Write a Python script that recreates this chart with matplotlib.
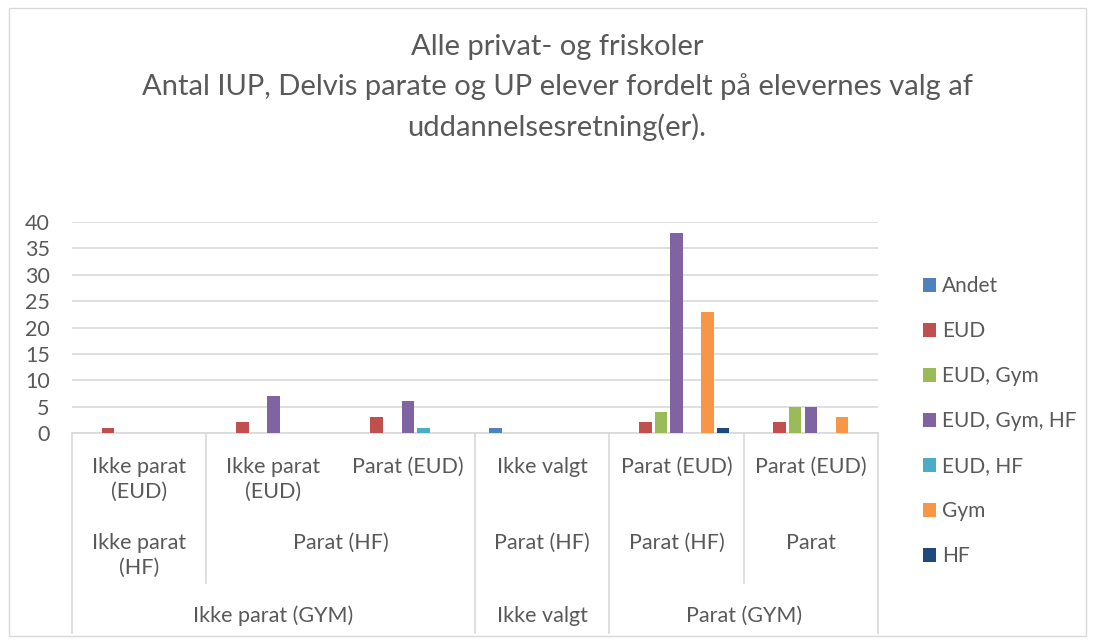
import matplotlib.pyplot as plt
import matplotlib.patches as patches
import numpy as np

plt.rcParams['font.family'] = ['Lato', 'DejaVu Sans']

series = ["Andet", "EUD", "EUD, Gym", "EUD, Gym, HF", "EUD, HF", "Gym", "HF"]
colors = ["#4F81BD", "#C0504D", "#9BBB59", "#8064A2", "#4BACC6", "#F79646", "#1F497D"]

# value per group (6 leaf categories), in series order
andet = [0, 0, 0, 1, 0, 0]
eud = [1, 2, 3, 0, 2, 2]
eud_gym = [0, 0, 0, 0, 4, 5]
eud_gym_hf = [0, 7, 6, 0, 38, 5]
eud_hf = [0, 0, 1, 0, 0, 0]
gym = [0, 0, 0, 0, 23, 3]
hf = [0, 0, 0, 0, 1, 0]
values = [andet, eud, eud_gym, eud_gym_hf, eud_hf, gym, hf]

level0 = ["Ikke parat\n(EUD)", "Ikke parat\n(EUD)", "Parat (EUD)", "Ikke valgt", "Parat (EUD)", "Parat (EUD)"]
level1 = [("Ikke parat\n(HF)", 0, 0), ("Parat (HF)", 1, 2), ("Parat (HF)", 3, 3),
          ("Parat (HF)", 4, 4), ("Parat", 5, 5)]
level2 = [("Ikke parat (GYM)", 0, 2), ("Ikke valgt", 3, 3), ("Parat (GYM)", 4, 5)]

title = ("Alle privat- og friskoler\n"
         "Antal IUP, Delvis parate og UP elever fordelt på elevernes valg af\n"
         "uddannelsesretning(er).")

txt = "#595959"
grid = "#D9D9D9"
fs = 15.5

fig = plt.figure(figsize=(10.96, 6.44), dpi=100)
fig.patches.append(patches.Rectangle((9 / 1096, 8 / 644), 1077 / 1096, 628 / 644,
                                     transform=fig.transFigure, fill=False,
                                     edgecolor=grid, linewidth=1))
ax = fig.add_axes([72 / 1096, (644 - 433) / 644, 806 / 1096, 211 / 644])

x = np.arange(len(level0))
step = 0.116
w = 0.093
for i, (name, vals) in enumerate(zip(series, values)):
    ax.bar(x + (i - 3) * step, vals, width=w, color=colors[i], label=name, zorder=3)

ax.set_xlim(-0.5, 5.5)
ax.set_ylim(0, 40)
ax.set_yticks(range(0, 41, 5))
ax.tick_params(axis='y', length=0, labelsize=fs, labelcolor=txt, pad=16)
ax.set_xticks([])
ax.grid(axis='y', color=grid, linewidth=1.2, zorder=0)
for s in ["top", "right", "left"]:
    ax.spines[s].set_visible(False)
ax.spines["bottom"].set_color(grid)
ax.spines["bottom"].set_linewidth(1.2)

tr = ax.get_xaxis_transform()
def py(p):
    return (433 - p) / 211

# separator lines of the category axis
for b, end in [(-0.5, 633), (0.5, 583), (2.5, 633), (3.5, 633), (4.5, 583), (5.5, 633)]:
    ax.plot([b, b], [0, py(end)], transform=tr, color=grid, linewidth=1.2, clip_on=False)

for i, lab in enumerate(level0):
    ax.text(i, py(457), lab, transform=tr, ha='center', va='top', fontsize=fs,
            color=txt, linespacing=1.33)
for lab, a, b in level1:
    ax.text((a + b) / 2, py(533), lab, transform=tr, ha='center', va='top', fontsize=fs,
            color=txt, linespacing=1.33)
for lab, a, b in level2:
    ax.text((a + b) / 2, py(616), lab, transform=tr, ha='center', va='center',
            fontsize=fs, color=txt)

fig.text(557 / 1096, 1 - 34 / 644, title, ha='center', va='top', fontsize=21,
         color=txt, linespacing=1.6)

leg = ax.legend(loc='upper left', bbox_to_anchor=(843 / 806, 1 - (268 - 222) / 211),
                frameon=False, fontsize=15, handlelength=0.6, handleheight=0.6,
                handletextpad=0.3, labelspacing=1.2, borderaxespad=0)
for t in leg.get_texts():
    t.set_color(txt)

fig.savefig("out.png", dpi=100)
